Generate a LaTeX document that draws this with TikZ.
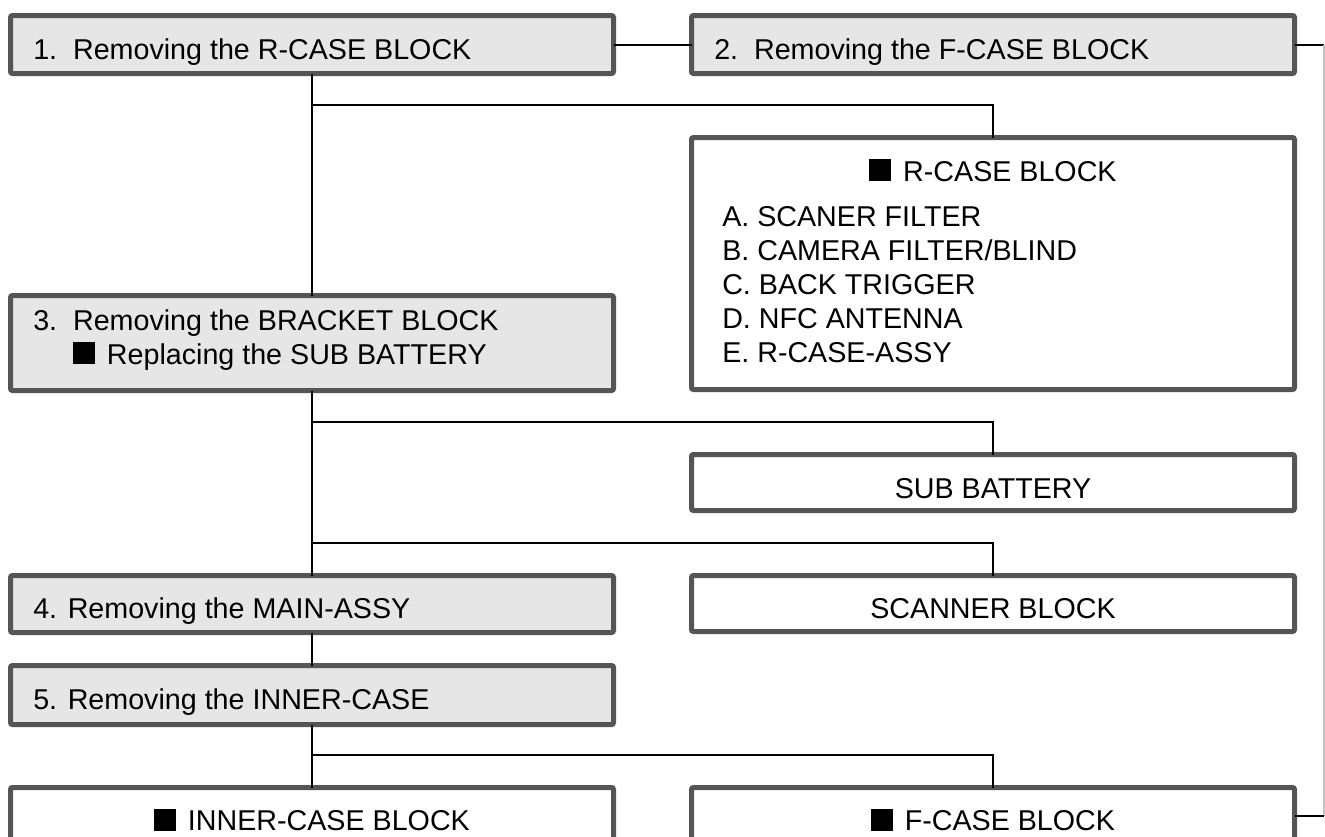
\documentclass[tikz,border=0pt]{standalone}
\usepackage{fontspec}
\setmainfont{Liberation Sans}
\definecolor{boxline}{HTML}{555555}
\definecolor{stepfill}{HTML}{E6E6E6}
\definecolor{sideline}{HTML}{C4C4C4}
\newcommand{\blksq}{\rule{0.76em}{0.76em}\hspace{0.42em}}
\tikzset{
  partbox/.style={draw=boxline, line width=3.75pt, rounded corners=1.5pt, fill=white,
                  minimum width=452.25pt, inner sep=0pt, outer sep=0pt},
  stepbox/.style={partbox, fill=stepfill},
  lbl/.style={inner sep=0pt, font=\fontsize{21.5pt}{25pt}\selectfont},
  link/.style={draw=black, line width=1.5pt},
  side/.style={draw=sideline, line width=1.1pt}
}
\begin{document}
\begin{tikzpicture}[x=0.75pt,y=-0.75pt]
\clip (0,0) rectangle (1325,836);
\useasboundingbox (0,0) rectangle (1325,836);

% junction coordinates
\coordinate (j1) at (312,105);
\coordinate (j2) at (312,422);
\coordinate (j3) at (312,543);
\coordinate (j4) at (312,755);
\coordinate (r1) at (1324,44.5);
\coordinate (r2) at (1324,816);

% boxes
\node[stepbox, minimum height=43.5pt]  (b1) at (312,44.5) {};
\node[stepbox, minimum height=43.5pt]  (b2) at (993,44.5) {};
\node[partbox, minimum height=189pt]   (rc) at (993,263.5) {};
\node[stepbox, minimum height=71.25pt] (b3) at (312,343) {};
\node[partbox, minimum height=42pt]    (sb) at (993,482.5) {};
\node[partbox, minimum height=42pt]    (sc) at (993,603.5) {};
\node[stepbox, minimum height=42.75pt] (b4) at (312,604) {};
\node[stepbox, minimum height=44.25pt] (b5) at (312,695) {};
\node[partbox, minimum height=42.75pt] (ic) at (312,816) {};
\node[partbox, minimum height=42.75pt] (fc) at (993,816) {};

% connectors
\draw[link] (b1.east) -- (b2.west);
\draw[link] (b1.south) -- (b3.north);
\draw[link] (j1) -| (rc.north);
\draw[link] (b3.south) -- (b4.north);
\draw[link] (j2) -| (sb.north);
\draw[link] (j3) -| (sc.north);
\draw[link] (b4.south) -- (b5.north);
\draw[link] (b5.south) -- (ic.north);
\draw[link] (j4) -| (fc.north);
\draw[link] (b2.east) -- (r1);
\draw[side] (r1) -- (r2);
\draw[link] (r2) -- (fc.east);

% labels
\node[lbl, anchor=base west] (t1) at (33,59) {1.~~Removing the R-CASE BLOCK};
\node[lbl, anchor=base west] (t2) at (714,59) {2.~~Removing the F-CASE BLOCK};
\node[lbl, anchor=base] (rct) at (993,181) {\blksq R-CASE BLOCK};
\node[lbl, anchor=base west] (ra) at (722,226) {A. SCANER FILTER};
\node[lbl, anchor=base west] (rb) at (722,260) {B. CAMERA FILTER/BLIND};
\node[lbl, anchor=base west] (rcc) at (722,294) {C. BACK TRIGGER};
\node[lbl, anchor=base west] (rd) at (722,328) {D. NFC ANTENNA};
\node[lbl, anchor=base west] (re) at (722,362) {E. R-CASE-ASSY};
\node[lbl, anchor=base west] (t3a) at (33,330.75) {3.~~Removing the BRACKET BLOCK};
\node[lbl, anchor=base west] (t3b) at (33,364.25) {\phantom{3.~~}\blksq Replacing the SUB BATTERY};
\node[lbl, anchor=base] (sbt) at (993,498) {SUB BATTERY};
\node[lbl, anchor=base] (sct) at (993,618.5) {SCANNER BLOCK};
\node[lbl, anchor=base west] (t4) at (33,618.5) {4. Removing the MAIN-ASSY};
\node[lbl, anchor=base west] (t5) at (33,709.5) {5. Removing the INNER-CASE};
\node[lbl, anchor=base] (ict) at (312,830.5) {\blksq INNER-CASE BLOCK};
\node[lbl, anchor=base] (fct) at (993,830.5) {\blksq F-CASE BLOCK};
\end{tikzpicture}
\end{document}
